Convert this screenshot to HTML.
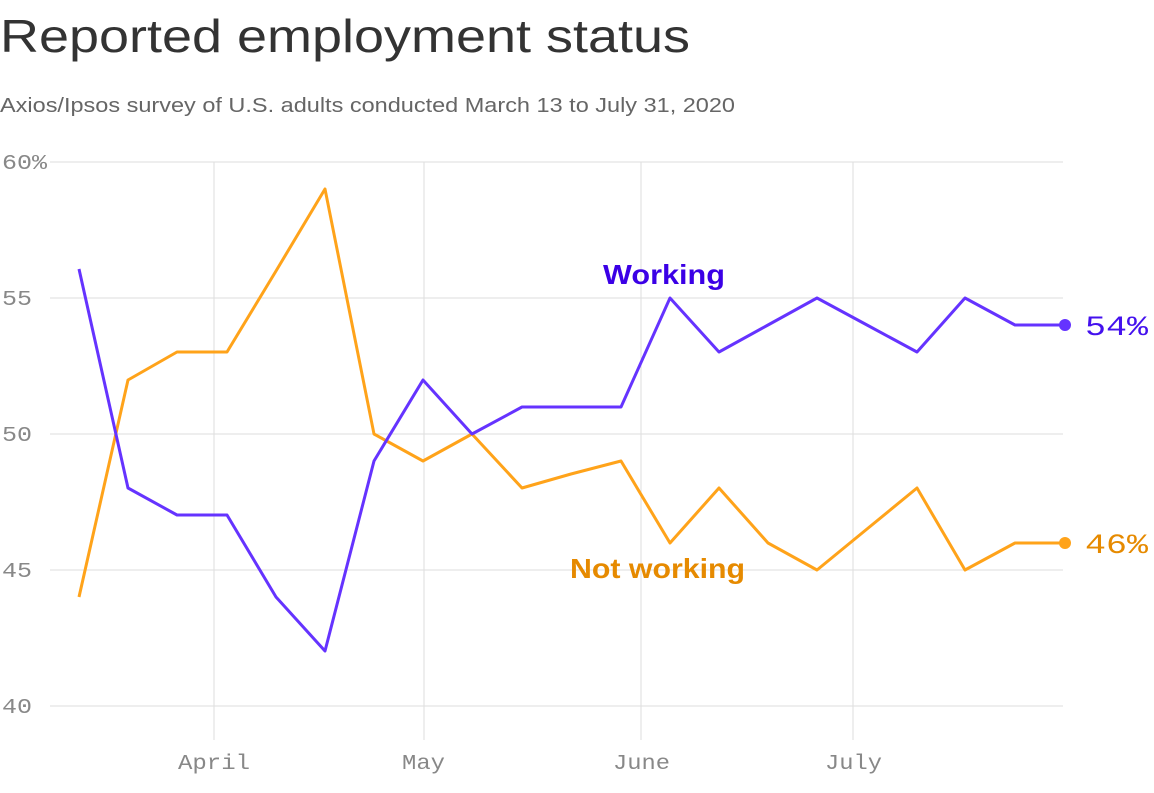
<!DOCTYPE html>
<html><head><meta charset="utf-8"><style>
body{margin:0;background:#fff;width:1154px;height:788px;overflow:hidden;font-family:"Liberation Sans",sans-serif}
</style></head><body>
<svg width="1154" height="788" xmlns="http://www.w3.org/2000/svg">
<text x="0" y="52" font-size="46" fill="#333" font-family="Liberation Sans,sans-serif" textLength="690" lengthAdjust="spacingAndGlyphs">Reported employment status</text>
<text x="0" y="112" font-size="20" fill="#666" font-family="Liberation Sans,sans-serif" textLength="735" lengthAdjust="spacingAndGlyphs">Axios/Ipsos survey of U.S. adults conducted March 13 to July 31, 2020</text>
<g stroke="#ddd" stroke-width="1">
<line x1="50" x2="1063" y1="162" y2="162"/><line x1="50" x2="1063" y1="298" y2="298"/>
<line x1="50" x2="1063" y1="434" y2="434"/><line x1="50" x2="1063" y1="570" y2="570"/>
<line x1="50" x2="1063" y1="706" y2="706"/>
<line x1="214" x2="214" y1="162" y2="740"/><line x1="424" x2="424" y1="162" y2="740"/>
<line x1="641" x2="641" y1="162" y2="740"/><line x1="853" x2="853" y1="162" y2="740"/>
</g>
<g font-family="Liberation Mono,monospace" font-size="21" fill="#888" lengthAdjust="spacingAndGlyphs">
<text x="2" y="169" textLength="45" lengthAdjust="spacingAndGlyphs">60%</text>
<text x="2" y="305" textLength="30" lengthAdjust="spacingAndGlyphs">55</text>
<text x="2" y="441" textLength="30" lengthAdjust="spacingAndGlyphs">50</text>
<text x="2" y="577" textLength="30" lengthAdjust="spacingAndGlyphs">45</text>
<text x="2" y="713" textLength="30" lengthAdjust="spacingAndGlyphs">40</text>
<text x="178" y="769" textLength="72" lengthAdjust="spacingAndGlyphs">April</text>
<text x="402" y="769" textLength="43" lengthAdjust="spacingAndGlyphs">May</text>
<text x="613" y="769" textLength="57" lengthAdjust="spacingAndGlyphs">June</text>
<text x="825" y="769" textLength="57" lengthAdjust="spacingAndGlyphs">July</text>
</g>
<polyline fill="none" stroke="#ffa31a" stroke-width="3" stroke-linejoin="round" points="79,597 128,380 177,352 227,352 276,271 325,189 374,434 423,461 472,434 522,488 571,474 621,461 670,543 719,488 768,543 817,570 867,529 917,488 965,570 1015,543 1064,543"/>
<polyline fill="none" stroke="#6533ff" stroke-width="3" stroke-linejoin="round" points="79,269 128,488 177,515 227,515 276,597 325,651 374,461 423,380 472,434 522,407 571,407 621,407 670,298 719,352 768,325 817,298 867,325 917,352 965,298 1015,325 1064,325"/>
<circle cx="1065" cy="325" r="6" fill="#6533ff"/><circle cx="1065" cy="543" r="6" fill="#ffa31a"/>
<text x="1085" y="335" font-size="28" fill="#4411ee" font-family="Liberation Mono,monospace" textLength="63" lengthAdjust="spacingAndGlyphs">54%</text>
<text x="1085" y="553" font-size="28" fill="#e68a00" font-family="Liberation Mono,monospace" textLength="63" lengthAdjust="spacingAndGlyphs">46%</text>
<text x="603" y="284" font-size="28" font-weight="bold" fill="#3b00e6" textLength="122" lengthAdjust="spacingAndGlyphs">Working</text>
<text x="570" y="578" font-size="28" font-weight="bold" fill="#e68a00" textLength="175" lengthAdjust="spacingAndGlyphs">Not working</text>
</svg>
</body></html>
